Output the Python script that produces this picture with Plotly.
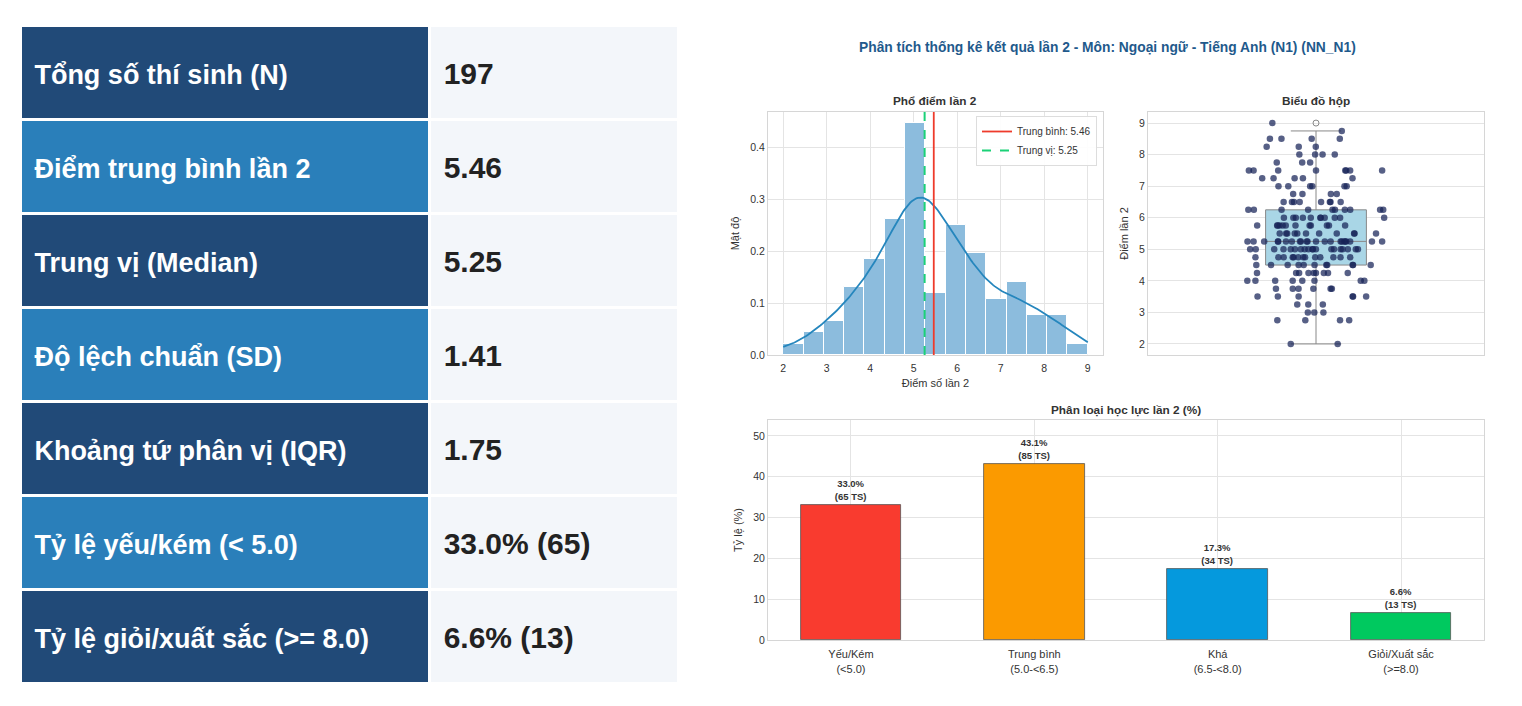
import numpy as np
import plotly.graph_objects as go

# ---- summary table ----
row_labels = ["Tổng số thí sinh (N)", "Điểm trung bình lần 2", "Trung vị (Median)",
              "Độ lệch chuẩn (SD)", "Khoảng tứ phân vị (IQR)",
              "Tỷ lệ yếu/kém (&lt; 5.0)", "Tỷ lệ giỏi/xuất sắc (>= 8.0)"]
row_values = ["197", "5.46", "5.25", "1.41", "1.75", "33.0% (65)", "6.6% (13)"]

score_levels = [2.0, 2.75, 3.0, 3.25, 3.5, 3.75, 4.0, 4.25, 4.5, 4.75, 5.0, 5.25, 5.5,
                5.75, 6.0, 6.25, 6.5, 6.75, 7.0, 7.25, 7.5, 7.75, 8.0, 8.25, 8.5, 8.75, 9.0]
score_counts = [2, 4, 3, 3, 6, 6, 8, 9, 11, 13, 19, 22, 11,
                12, 11, 10, 8, 4, 6, 5, 8, 3, 4, 3, 4, 1, 1]
mean_score = 5.46
median_score = 5.25

# ---- classification ----
cat_labels = ["Yếu/Kém<br>(&lt;5.0)", "Trung bình<br>(5.0-&lt;6.5)", "Khá<br>(6.5-&lt;8.0)", "Giỏi/Xuất sắc<br>(>=8.0)"]
cat_pct = [33.0, 43.1, 17.3, 6.6]
cat_n = [65, 85, 34, 13]
cat_colors = ["#f93b2f", "#fb9a00", "#0599dd", "#00c95f"]

scores = np.repeat(score_levels, score_counts)

# histogram density (15 bins between 2 and 9) + gaussian kde (scott)
dens, edges = np.histogram(scores, bins=15, range=(2, 9), density=True)
centers = (edges[:-1] + edges[1:]) / 2
bw = len(scores) ** (-1 / 5) * scores.std(ddof=1)
kx = np.linspace(scores.min(), scores.max(), 200)
ky = np.exp(-0.5 * ((kx[:, None] - scores[None, :]) / bw) ** 2).sum(axis=1) / (len(scores) * bw * np.sqrt(2 * np.pi))

# page has an 8px body margin, so positions below are screen pixels minus 8
OFF = 8
W, H = 1522 - 2 * OFF, 706 - 2 * OFF
def dx(a, b):
    return [(a - OFF) / W, (b - OFF) / W]
def dy(top, bot):
    return [max(0, 1 - (bot - OFF) / H), 1 - (top - OFF) / H]
def px(x):
    return (x - OFF) / W
def py(y):
    return 1 - (y - OFF) / H

fig = go.Figure()

dark, light = "#214a78", "#2a7fba"
label_fill = [dark if i % 2 == 0 else light for i in range(len(row_labels))]
lab = ["&nbsp;<br>&nbsp;<span style='font-size:27px'><b>" + s + "</b></span>" for s in row_labels]
val = ["&nbsp;<br>&nbsp;<span style='font-size:30px'><b>" + s + "</b></span>" for s in row_values]
fig.add_trace(go.Table(
    domain=dict(x=dx(20, 678), y=dy(25, 698)),
    columnwidth=[408, 248],
    header=dict(values=[lab[0], val[0]],
                fill_color=[dark, "#f3f6fa"], line=dict(color="white", width=3),
                align="left", height=94,
                font=dict(family="Arial", size=23, color=["white", "#222222"])),
    cells=dict(values=[lab[1:], val[1:]],
               fill_color=[label_fill[1:], ["#f3f6fa"] * 6], line=dict(color="white", width=3),
               align="left", height=94,
               font=dict(family="Arial", size=23, color=["white", "#222222"])),
))

# histogram
fig.add_trace(go.Bar(x=centers, y=dens, width=edges[1] - edges[0], marker=dict(color="#8cbcdd", line=dict(color="white", width=1)),
                     showlegend=False, xaxis="x", yaxis="y"))
fig.add_trace(go.Scatter(x=kx, y=ky, mode="lines", line=dict(color="#2586bd", width=1.8),
                         showlegend=False, xaxis="x", yaxis="y"))
fig.add_trace(go.Scatter(x=[mean_score, mean_score], y=[0, 0.468], mode="lines",
                         line=dict(color="#ee3b2b", width=1.8), name="Trung bình: %.2f" % mean_score,
                         xaxis="x", yaxis="y"))
fig.add_trace(go.Scatter(x=[median_score, median_score], y=[0, 0.468], mode="lines",
                         line=dict(color="#1bd177", width=2, dash="dash"), name="Trung vị: %.2f" % median_score,
                         xaxis="x", yaxis="y"))

# box + strip
fig.add_trace(go.Box(y=scores, x0=0, width=0.3, fillcolor="#a9d6e6", line=dict(color="#888888", width=1),
                     boxpoints="outliers", marker=dict(symbol="circle-open", color="#888888", size=6),
                     whiskerwidth=0.5, showlegend=False, xaxis="x2", yaxis="y2"))
# strip points split by how common the score is, so plotly's density-scaled jitter spreads them more evenly
groups = [(0, 4), (5, 9), (10, 100)]
for lo, hi in groups:
    ys = np.repeat([lv for lv, c in zip(score_levels, score_counts) if lo <= c <= hi],
                   [c for c in score_counts if lo <= c <= hi])
    fig.add_trace(go.Box(y=ys, x0=0, width=0.42, fillcolor="rgba(0,0,0,0)",
                         line=dict(color="rgba(0,0,0,0)", width=0),
                         boxpoints="all", jitter=1, pointpos=0,
                         marker=dict(color="rgba(22,34,88,0.72)", size=6.5),
                         showlegend=False, xaxis="x2", yaxis="y2"))

# classification bars
fig.add_trace(go.Bar(x=list(range(4)), y=cat_pct, width=0.55,
                     marker=dict(color=cat_colors, line=dict(color="#555555", width=0.8)),
                     text=["<b>%.1f%%<br>(%d TS)</b>" % (p, n) for p, n in zip(cat_pct, cat_n)],
                     textposition="outside", textfont=dict(size=9.5, color="#333333"), cliponaxis=False,
                     showlegend=False, xaxis="x3", yaxis="y3"))

ax = dict(showline=True, linecolor="#d6d6d6", mirror=True, gridcolor="#e4e4e4", zeroline=False,
          tickfont=dict(size=10.5, color="#333333"), ticks="", automargin=False)
tf = dict(size=11, color="#333333")

fig.update_layout(
    width=W, height=H, margin=dict(l=0, r=0, t=0, b=0, autoexpand=False),
    paper_bgcolor="white", plot_bgcolor="white",
    font=dict(family="Arial", color="#333333"),
    bargap=0, boxmode="overlay",
    xaxis=dict(ax, domain=dx(768, 1103), range=[1.65, 9.35], dtick=1, anchor="y", ticklabelstandoff=3,
               title=dict(text="Điểm số lần 2", font=tf, standoff=6)),
    yaxis=dict(ax, domain=dy(112, 355), range=[0, 0.468], dtick=0.1, tickformat=".1f", anchor="x",
               title=dict(text="Mật độ", font=tf, standoff=8)),
    xaxis2=dict(ax, domain=dx(1148, 1484), range=[-0.5, 0.5], showticklabels=False, showgrid=False, anchor="y2"),
    yaxis2=dict(ax, domain=dy(112, 355), range=[1.65, 9.35], dtick=1, anchor="x2",
                title=dict(text="Điểm lần 2", font=tf, standoff=8)),
    xaxis3=dict(ax, domain=dx(768, 1484), range=[-0.4525, 3.4525], tickvals=list(range(4)), ticktext=cat_labels,
                anchor="y3", ticklabelstandoff=4, tickfont=dict(size=11, color="#333333")),
    yaxis3=dict(ax, domain=dy(420, 640), range=[0, 53.9], dtick=10, anchor="x3",
                title=dict(text="Tỷ lệ (%)", font=tf, standoff=8)),
    legend=dict(x=px(1097), y=py(116), xanchor="right", yanchor="top", bgcolor="rgba(255,255,255,0.9)",
                bordercolor="#dddddd", borderwidth=1, font=dict(size=10, color="#333333")),
    annotations=[
        dict(text="<b>Phân tích thống kê kết quả lần 2 - Môn: Ngoại ngữ - Tiếng Anh (N1) (NN_N1)</b>",
             x=px(1107), y=py(47), xref="paper", yref="paper", showarrow=False, xanchor="center", yanchor="middle",
             font=dict(size=13.8, color="#1f5a8c")),
        dict(text="<b>Phổ điểm lần 2</b>", x=px(935), y=py(101), xref="paper", yref="paper",
             showarrow=False, xanchor="center", yanchor="middle", font=dict(size=11.8, color="#333333")),
        dict(text="<b>Biểu đồ hộp</b>", x=px(1316), y=py(101), xref="paper", yref="paper",
             showarrow=False, xanchor="center", yanchor="middle", font=dict(size=11.8, color="#333333")),
        dict(text="<b>Phân loại học lực lần 2 (%)</b>", x=px(1126), y=py(410), xref="paper", yref="paper",
             showarrow=False, xanchor="center", yanchor="middle", font=dict(size=11.8, color="#333333")),
    ],
)

fig.write_html("out.html")
